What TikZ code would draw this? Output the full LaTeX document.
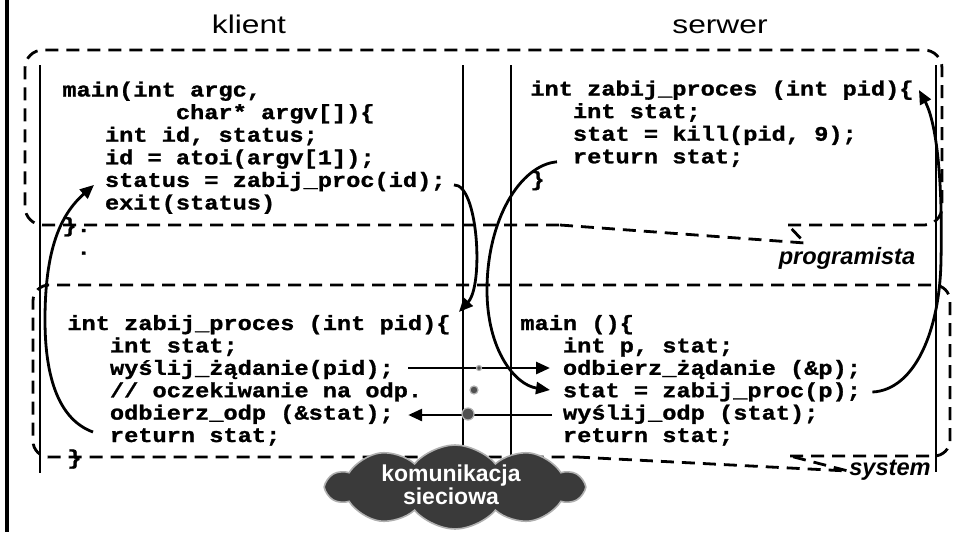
\documentclass[tikz,border=0pt]{standalone}
\usepackage{fontspec}
\usepackage{graphicx}
\setmainfont{Liberation Sans}
\newfontfamily\codefamily{Liberation Mono}[FakeStretch=1.148, BoldFeatures={FakeBold=1.2}]
\usetikzlibrary{arrows.meta,shapes.symbols}

\definecolor{cloudgray}{HTML}{3A3A3A}
\definecolor{dotgray}{HTML}{505050}
\definecolor{ringgray}{HTML}{B0B0B0}

% indentation measured in code characters
\newcommand\ind{\phantom{xxx}}

\tikzset{
  codeline/.style={anchor=base west, inner sep=0pt,
    font=\codefamily\bfseries\fontsize{10.3pt}{11.3pt}\selectfont},
  title/.style={anchor=base, inner sep=0pt, font=\fontsize{12.8pt}{14pt}\selectfont},
  tag/.style={inner sep=0pt, font=\bfseries\itshape\fontsize{11.8pt}{13pt}\selectfont},
  boxline/.style={line width=1.4pt, dash pattern=on 6.5pt off 4pt},
  column/.style={line width=0.75pt},
  callarrow/.style={line width=1.4pt, -{Triangle[length=7pt,width=6pt]}},
  packet/.style={circle, inner sep=0pt, fill=dotgray, draw=ringgray, line width=0.6pt},
}

\begin{document}
\begin{tikzpicture}[x=0.5pt, y=-0.5pt]
\useasboundingbox (0,0) rectangle (954,532);

% left frame edge
\draw[line width=2pt] (7,0) -- (7,532);

% column separators
\draw[column] (40,65) -- (40,473);
\draw[column] (463,65) -- (463,460);
\draw[column] (511,65) -- (511,460);
\draw[column] (936,65) -- (936,472);

% titles
\node[title] (klient) at (249,33) {\scalebox{1.24}[1]{klient}};
\node[title] (serwer) at (720,33) {\scalebox{1.24}[1]{serwer}};

% client program
\node[codeline] (c1a) at (62,96.5)  {main(int argc,};
\node[codeline] (c1b) at (62,119.1) {\phantom{xxxxxxxx}char* argv[])\{};
\node[codeline] (c1c) at (62,141.7) {\ind int id, status;};
\node[codeline] (c1d) at (62,164.3) {\ind id = atoi(argv[1]);};
\node[codeline] (c1e) at (62,186.9) {\ind status = zabij\_proc(id);};
\node[codeline] (c1f) at (62,209.5) {\ind exit(status)};
\node[codeline] (c1g) at (62,232.1) {\}.};
\node[codeline] (c1h) at (62,254.7) {\phantom{x}.};

% server procedure
\node[codeline] (c2a) at (530,95.5)  {int zabij\_proces (int pid)\{};
\node[codeline] (c2b) at (530,118.1) {\ind int stat;};
\node[codeline] (c2c) at (530,140.7) {\ind stat = kill(pid, 9);};
\node[codeline] (c2d) at (530,163.3) {\ind return stat;};
\node[codeline] (c2e) at (530,185.9) {\}};

% client stub
\node[codeline] (c3a) at (67,330.0) {int zabij\_proces (int pid)\{};
\node[codeline] (c3b) at (67,352.4) {\ind int stat;};
\node[codeline] (c3c) at (67,374.8) {\ind wyślij\_żądanie(pid);};
\node[codeline] (c3d) at (67,397.2) {\ind // oczekiwanie na odp.};
\node[codeline] (c3e) at (67,419.6) {\ind odbierz\_odp (\&stat);};
\node[codeline] (c3f) at (67,442.0) {\ind return stat;};
\node[codeline] (c3g) at (67,464.4) {\}};

% server stub
\node[codeline] (c4a) at (520,330.0) {main ()\{};
\node[codeline] (c4b) at (520,352.4) {\ind int p, stat;};
\node[codeline] (c4c) at (520,374.8) {\ind odbierz\_żądanie (\&p);};
\node[codeline] (c4d) at (520,397.2) {\ind stat = zabij\_proc(p);};
\node[codeline] (c4e) at (520,419.6) {\ind wyślij\_odp (stat);};
\node[codeline] (c4f) at (520,442.0) {\ind return stat;};

% programmer layer (callout box)
\draw[boxline, rounded corners=9pt]
  (788,225) -- (942,225) -- (942,50) -- (25,50) -- (25,225) -- (560,225);
\draw[boxline] (560,225) -- (805,243) -- (788,225);
\node[tag] (prog) at (847,258) {programista};

% system layer (callout box)
\draw[boxline, rounded corners=8pt]
  (790,456) -- (950,456) -- (950,285) -- (33,285) -- (33,457) -- (577,457);
\draw[boxline] (577,457) -- (848,471) -- (790,456);
\node[tag] (sys) at (890,470) {system};

% call and return paths
\draw[callarrow] ([xshift=4pt,yshift=1pt]c1e.base east)
  .. controls (478,184) and (484,285) .. ([xshift=4pt,yshift=9pt]c3a.base east);
\draw[callarrow] ([xshift=13.5pt,yshift=0.75pt]c2d.base west)
  .. controls (520,165) and (487,220) .. (487,290)
  .. controls (487,350) and (515,385) .. ([xshift=15pt,yshift=3.6pt]c4d.base west);
\draw[callarrow] ([xshift=5.5pt,yshift=2.6pt]c4d.base east)
  .. controls (915,390) and (940,330) .. (941,260)
  .. controls (943,170) and (935,120) .. ([xshift=2.5pt,yshift=2.75pt]c2a.base east);
\draw[callarrow] ([xshift=13pt,yshift=5pt]c3f.base west)
  .. controls (60,420) and (45,380) .. (45,320)
  .. controls (45,250) and (60,215) .. ([xshift=16pt,yshift=1pt]c1e.base west);

% messages over the network
\draw[callarrow] ([xshift=7pt,yshift=3.4pt]c3c.base east) -- ([xshift=15pt,yshift=3.4pt]c4c.base west);
\draw[callarrow] ([xshift=16pt,yshift=2.3pt]c4e.base west) -- ([xshift=7pt,yshift=2.3pt]c3e.base east);
\node[packet, minimum size=2.5pt] (p1) at (479,368) {};
\node[packet, minimum size=4pt]   (p2) at (474,390) {};
\node[packet, minimum size=6pt]   (p3) at (468,414) {};

% network cloud
\node[cloud, cloud puffs=10, cloud puff arc=100, aspect=3.1, inner sep=0pt, fill=cloudgray,
      draw=ringgray, line width=0.8pt, minimum width=128pt, minimum height=42pt]
  (net) at (455,487) {};
\node[text=white, align=center, inner sep=0pt,
      font=\bfseries\fontsize{11.5pt}{11.5pt}\selectfont]
  (nettext) at ([xshift=-2pt,yshift=1pt]net.center) {komunikacja\\sieciowa};
\end{tikzpicture}
\end{document}
